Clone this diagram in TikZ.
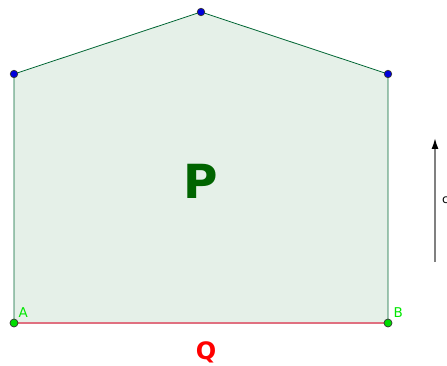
\documentclass[tikz,border=0pt]{standalone}
\usepackage{fontspec}
\setmainfont{DejaVu Sans}
\usetikzlibrary{arrows.meta}
\definecolor{polyfill}{RGB}{229,240,232}
\definecolor{polyedge}{RGB}{0,102,51}
\definecolor{ptext}{RGB}{0,100,0}
\definecolor{baseedge}{RGB}{224,112,128}
\definecolor{ptgreen}{RGB}{0,220,0}
\definecolor{lblgreen}{RGB}{0,230,0}
\definecolor{ptblue}{RGB}{0,0,220}
\tikzset{
  x=1pt,y=-1pt,
  greenpt/.style={circle,draw=black!80,fill=ptgreen,line width=0.7pt,inner sep=0pt,minimum size=8pt},
  bluept/.style={circle,draw=black!80,fill=ptblue,line width=0.7pt,inner sep=0pt,minimum size=7.5pt},
  ptlabel/.style={text=lblgreen,font=\fontsize{13.5}{13.5}\selectfont,inner sep=0pt},
}
\begin{document}
\begin{tikzpicture}
\useasboundingbox (0,0) rectangle (447,366);
\coordinate (A) at (14,323);
\coordinate (B) at (388,323);
\coordinate (C) at (388,74);
\coordinate (D) at (201,12);
\coordinate (E) at (14,74);
\fill[polyfill] (A) -- (B) -- (C) -- (D) -- (E) -- cycle;
\draw[polyedge,line width=0.8pt] (B) -- (C) -- (D) -- (E) -- (A);
\draw[baseedge,line width=1.2pt] (A) -- (B);
\node[greenpt] (pA) at (A) {};
\node[greenpt] (pB) at (B) {};
\node[bluept] (pC) at (C) {};
\node[bluept] (pD) at (D) {};
\node[bluept] (pE) at (E) {};
\node[ptlabel,anchor=south west] (lA) at (18.5,318) {A};
\node[ptlabel,anchor=south west] (lB) at (393.5,318) {B};
\node[text=ptext,font=\fontsize{47}{47}\selectfont\bfseries] (P) at (201,181) {P};
\node[text=red,font=\fontsize{24}{24}\selectfont\bfseries] (Q) at (206,352) {Q};
\coordinate (v1) at (435,262);
\coordinate (v2) at (435,138);
\draw[gray,line width=1.6pt,-{Latex[length=11pt,width=7pt,black]}] (v1) -- (v2);
\node[anchor=west,inner sep=0pt,font=\fontsize{12}{12}\selectfont] (c) at (442,200) {c};
\end{tikzpicture}
\end{document}
